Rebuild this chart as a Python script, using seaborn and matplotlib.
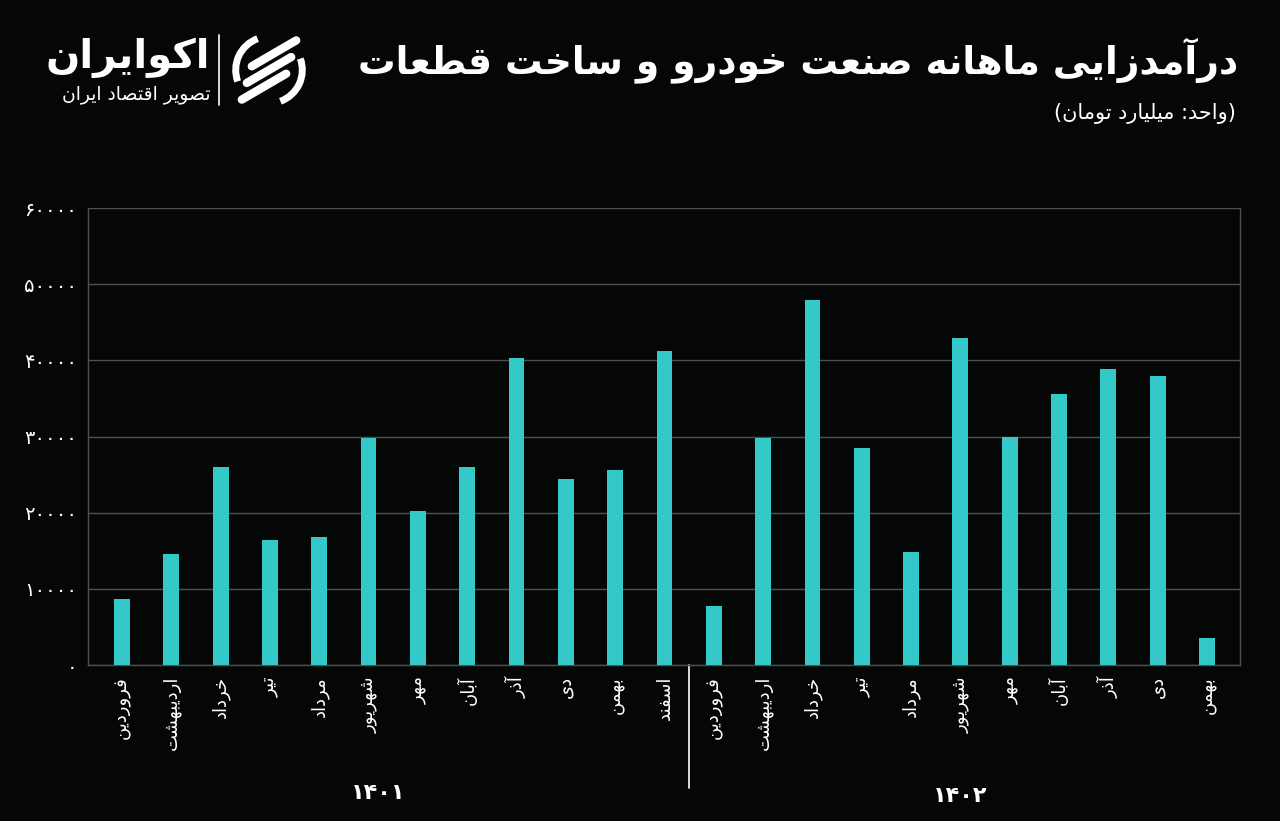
import matplotlib
matplotlib.use("Agg")
import matplotlib.pyplot as plt
import matplotlib.transforms as mtransforms
from matplotlib.patches import Arc
import seaborn as sns
import pandas as pd

# ---------------- data ----------------
months = ["فروردین", "اردیبهشت", "خرداد", "تیر", "مرداد", "شهریور",
          "مهر", "آبان", "آذر", "دی", "بهمن", "اسفند"]
years = ["۱۴۰۱", "۱۴۰۲"]
values_1401 = [8700, 14600, 26000, 16400, 16800, 29800, 20200, 26000, 40300, 24400, 25600, 41200]
values_1402 = [7750, 29800, 47900, 28500, 14800, 42900, 29900, 35600, 38900, 37900, 3500]
yticks = [0, 10000, 20000, 30000, 40000, 50000, 60000]
title_text = "درآمدزایی ماهانه صنعت خودرو و ساخت قطعات"
subtitle_text = "(واحد: میلیارد تومان)"
logo_text = "اکوایران"
logo_sub = "تصویر اقتصاد ایران"

# ---------------- minimal Persian shaping ----------------
FORMS = {
    'ا': ('\uFE8D', '\uFE8E', None, None),
    'آ': ('\uFE81', '\uFE82', None, None),
    'ب': ('\uFE8F', '\uFE90', '\uFE91', '\uFE92'),
    'ت': ('\uFE95', '\uFE96', '\uFE97', '\uFE98'),
    'ح': ('\uFEA1', '\uFEA2', '\uFEA3', '\uFEA4'),
    'خ': ('\uFEA5', '\uFEA6', '\uFEA7', '\uFEA8'),
    'د': ('\uFEA9', '\uFEAA', None, None),
    'ذ': ('\uFEAB', '\uFEAC', None, None),
    'ر': ('\uFEAD', '\uFEAE', None, None),
    'ز': ('\uFEAF', '\uFEB0', None, None),
    'س': ('\uFEB1', '\uFEB2', '\uFEB3', '\uFEB4'),
    'ش': ('\uFEB5', '\uFEB6', '\uFEB7', '\uFEB8'),
    'ص': ('\uFEB9', '\uFEBA', '\uFEBB', '\uFEBC'),
    'ط': ('\uFEC1', '\uFEC2', '\uFEC3', '\uFEC4'),
    'ع': ('\uFEC9', '\uFECA', '\uFECB', '\uFECC'),
    'ف': ('\uFED1', '\uFED2', '\uFED3', '\uFED4'),
    'ق': ('\uFED5', '\uFED6', '\uFED7', '\uFED8'),
    'ل': ('\uFEDD', '\uFEDE', '\uFEDF', '\uFEE0'),
    'م': ('\uFEE1', '\uFEE2', '\uFEE3', '\uFEE4'),
    'ن': ('\uFEE5', '\uFEE6', '\uFEE7', '\uFEE8'),
    'ه': ('\uFEE9', '\uFEEA', '\uFEEB', '\uFEEC'),
    'و': ('\uFEED', '\uFEEE', None, None),
    'ی': ('\uFBFC', '\uFBFD', '\uFBFE', '\uFBFF'),
    'ک': ('\uFB8E', '\uFB8F', '\uFB90', '\uFB91'),
}


def joins_left(ch):
    return ch in FORMS and FORMS[ch][2] is not None


def shape(text):
    out = []
    n = len(text)
    for i, ch in enumerate(text):
        if ch not in FORMS:
            out.append(ch)
            continue
        prev = text[i - 1] if i > 0 else None
        nxt = text[i + 1] if i < n - 1 else None
        con_prev = prev is not None and joins_left(prev)
        con_next = joins_left(ch) and nxt is not None and nxt in FORMS
        iso, fin, ini, med = FORMS[ch]
        if con_prev and con_next:
            out.append(med)
        elif con_prev:
            out.append(fin)
        elif con_next:
            out.append(ini)
        else:
            out.append(iso)
    vis = "".join(out)[::-1]
    return vis.translate(str.maketrans("()", ")("))


def fa_digits(v):
    return str(v).translate(str.maketrans("0123456789", "۰۱۲۳۴۵۶۷۸۹"))


# ---------------- frame ----------------
keys = [f"{years[0]}-{m}" for m in months] + [f"{years[1]}-{m}" for m in months[:len(values_1402)]]
labels = months + months[:len(values_1402)]
df = pd.DataFrame({"key": keys, "value": values_1401 + values_1402})

BG = "#050707"
BAR = "#35c8c9"
GRID = "#4d4f50"

sns.set_theme(style="dark")
plt.rcParams["font.family"] = ["DejaVu Sans"]

fig = plt.figure(figsize=(12.8, 8.21), dpi=100, facecolor=BG)
ax = fig.add_axes([88 / 1280, 1 - 665 / 821, (1240 - 88) / 1280, (665 - 208) / 821])
ax.set_facecolor(BG)

sns.barplot(data=df, x="key", y="value", order=keys, color=BAR, width=0.32,
            saturation=1, linewidth=0, edgecolor="none", ax=ax, zorder=3)

ax.set_ylim(0, 60000)
ax.set_xlim(-0.69, len(keys) - 1 + 0.67)
ax.set_yticks(yticks)
ax.set_yticklabels([fa_digits(v) for v in yticks], color="white", fontsize=14)
ax.set_xticks(range(len(keys)))
ax.set_xticklabels([shape(l) for l in labels], rotation=90, color="white",
                   fontsize=13, va="top", ha="center")
ax.tick_params(axis="x", length=0, pad=8)
ax.tick_params(axis="y", length=0, pad=8)
for lab in ax.get_yticklabels():
    lab.set_horizontalalignment("right")
ax.set_xlabel("")
ax.set_ylabel("")
ax.yaxis.grid(True, color=GRID, linewidth=1, zorder=0)
ax.xaxis.grid(False)
for s in ["left", "right", "bottom"]:
    ax.spines[s].set_visible(True)
    ax.spines[s].set_color(GRID)
    ax.spines[s].set_linewidth(1)
ax.spines["top"].set_visible(False)

# year separator and year labels (digits stay left-to-right)
trans = mtransforms.blended_transform_factory(ax.transData, ax.transAxes)
sep_x = len(values_1401) - 0.5
ax.plot([sep_x, sep_x], [0, -0.269], transform=trans, color="white", lw=1.2, clip_on=False)
ax.text(5.2, -0.28, years[0], transform=trans, color="white", fontsize=16,
        fontweight="bold", ha="center", va="center")
ax.text(len(values_1401) + (len(values_1402) - 1) / 2, -0.287, years[1], transform=trans,
        color="white", fontsize=16, fontweight="bold", ha="center", va="center")

# title and subtitle
fig.text(1238 / 1280, 1 - 60 / 821, shape(title_text), color="white", fontsize=27,
         fontweight="bold", ha="right", va="center")
fig.text(1236 / 1280, 1 - 114 / 821, shape(subtitle_text), color="white", fontsize=15,
         ha="right", va="center")

# logo
fig.text(210 / 1280, 1 - 58 / 821, shape(logo_text), color="white", fontsize=29,
         fontweight="bold", ha="right", va="center")
fig.text(210 / 1280, 1 - 94 / 821, shape(logo_sub), color="white", fontsize=13.5,
         ha="right", va="center")
fig.add_artist(plt.Line2D([219 / 1280, 219 / 1280], [1 - 35 / 821, 1 - 105 / 821],
                          color="white", lw=1.2, transform=fig.transFigure))

# logo mark: ring with slanted stripes
lax = fig.add_axes([232 / 1280, 1 - 107 / 821, 74 / 1280, 74 / 821])
lax.set_xlim(-1, 1)
lax.set_ylim(-1, 1)
lax.set_aspect("equal")
lax.axis("off")
lax.add_patch(Arc((0, 0), 1.8, 1.8, theta1=110, theta2=200, color="white", lw=5))
lax.add_patch(Arc((0, 0), 1.8, 1.8, theta1=290, theta2=20, color="white", lw=5))
for off in (-0.45, 0.0, 0.45):
    lax.plot([-0.6 + off * 0.3, 0.6 + off * 0.3], [off - 0.35, off + 0.35],
             color="white", lw=6, solid_capstyle="round")

fig.savefig("out.png", dpi=100, facecolor=BG)
